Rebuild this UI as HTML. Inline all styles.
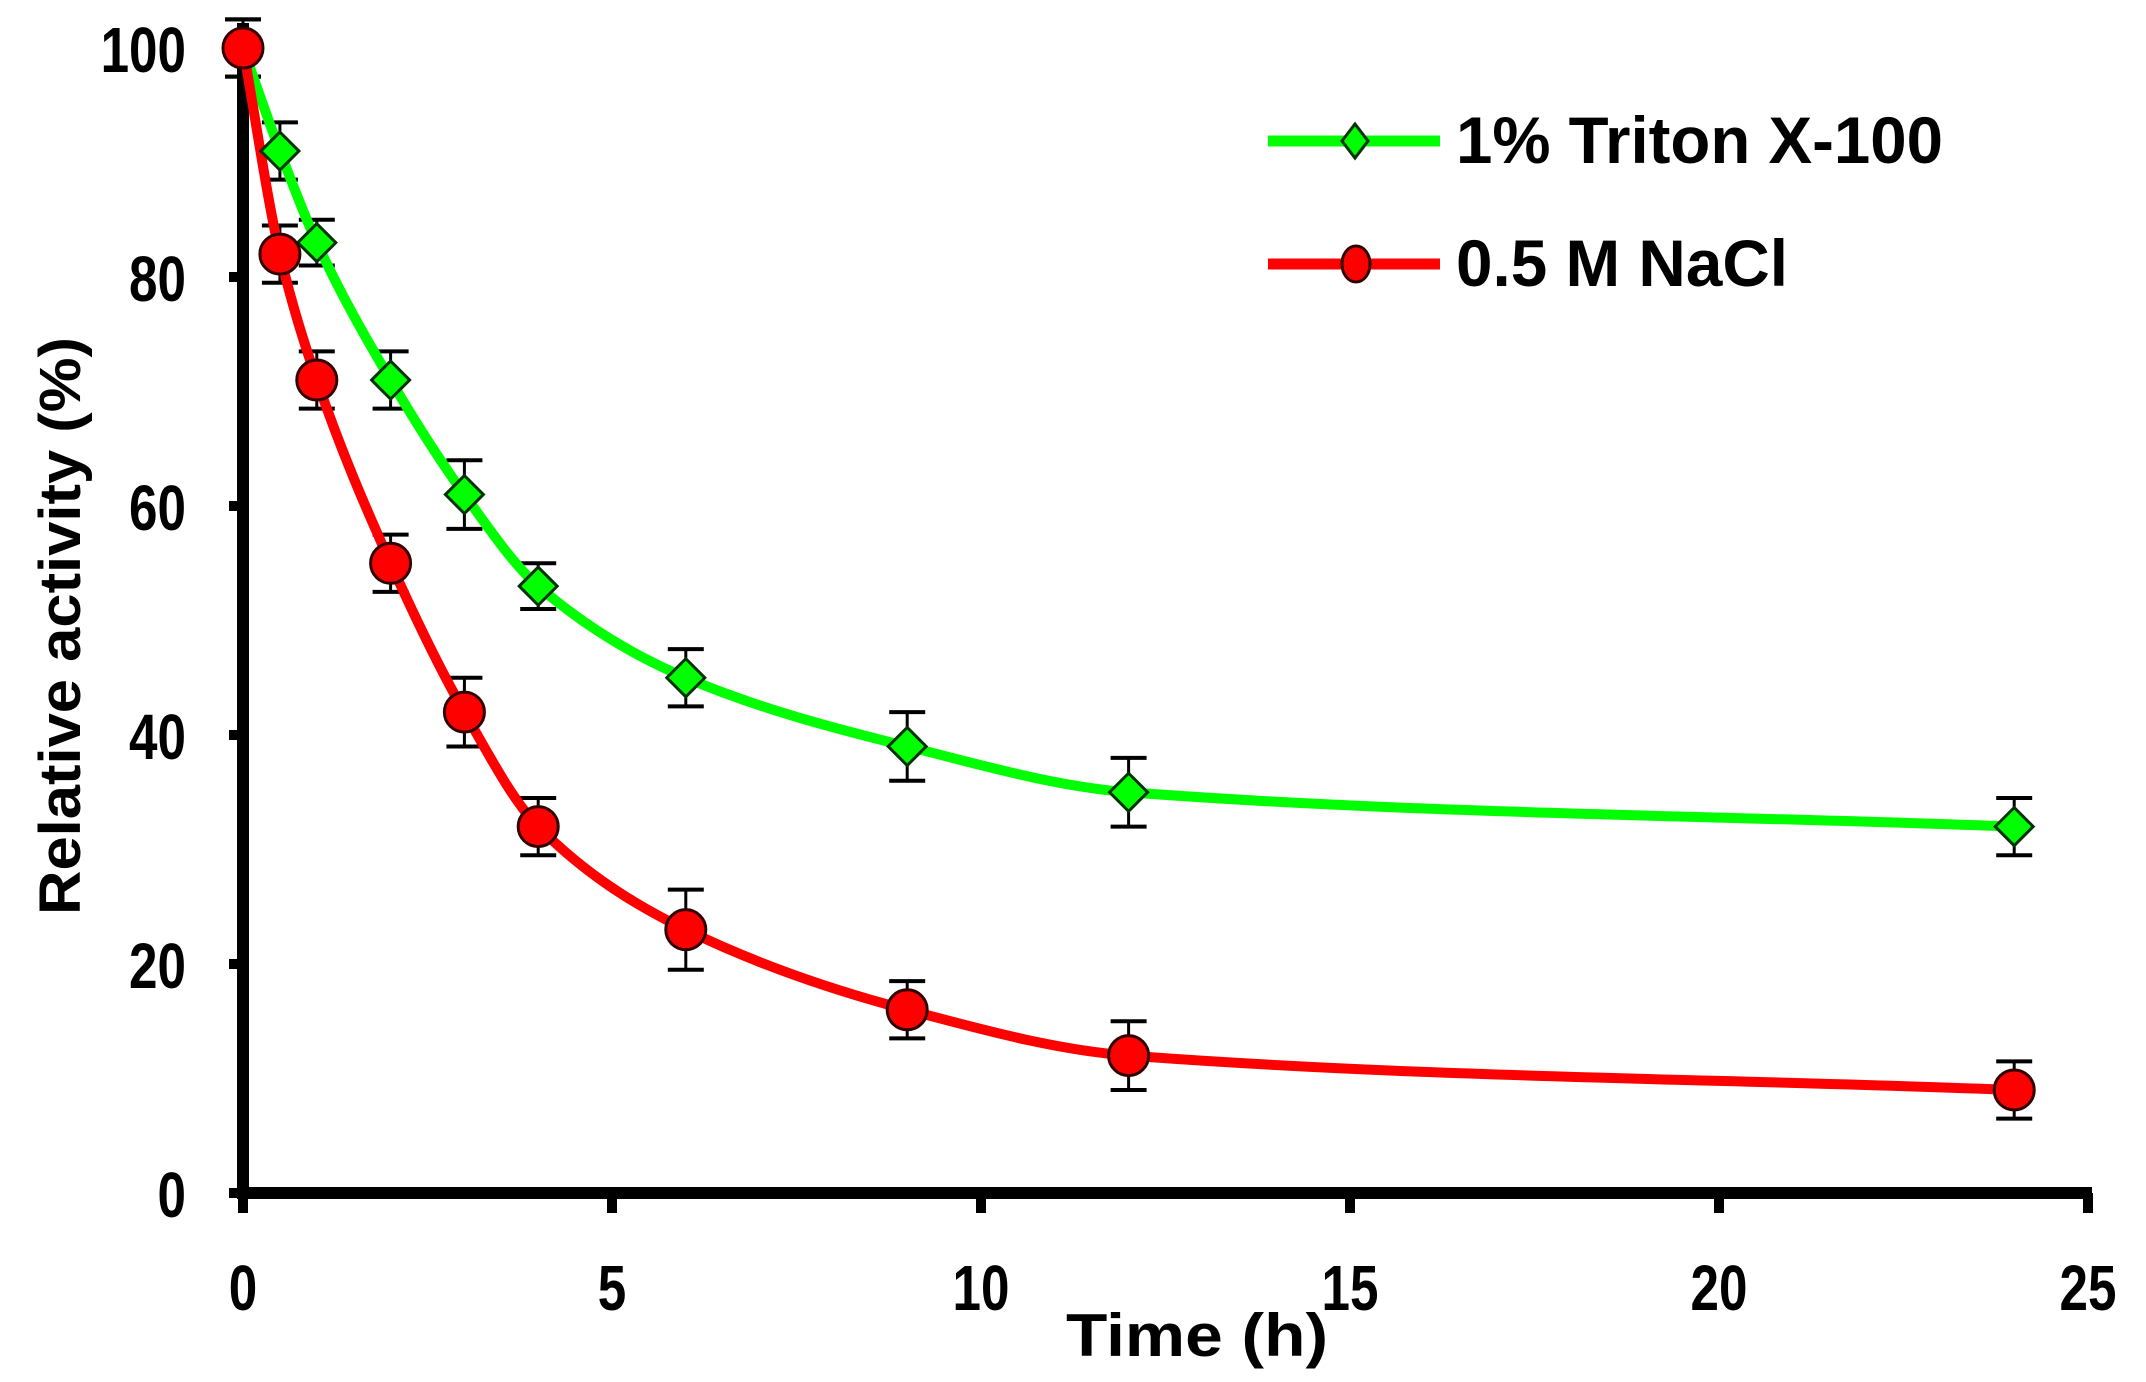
<!DOCTYPE html>
<html><head><meta charset="utf-8"><style>
html,body{margin:0;padding:0;background:#fff;}
svg{display:block;}
text{font-family:"Liberation Sans",sans-serif;fill:#000;}
</style></head><body>
<svg id="s" width="2146" height="1382" viewBox="0 0 2146 1382" xmlns="http://www.w3.org/2000/svg">
<g id="axes" stroke="#000" stroke-width="12" fill="none">
<line x1="243" y1="23" x2="243" y2="1199"/>
<line x1="237" y1="1193" x2="2092" y2="1193"/>
</g>
<g id="ticks" stroke="#000" stroke-width="10"></g>
<g id="labels" font-size="64" font-weight="bold"></g>
<text x="1197" y="1356" font-size="60" font-weight="bold" text-anchor="middle" textLength="262" lengthAdjust="spacingAndGlyphs">Time (h)</text>
<text transform="translate(80,626) rotate(-90)" font-size="58" font-weight="bold" text-anchor="middle" textLength="578" lengthAdjust="spacingAndGlyphs">Relative activity (%)</text>
<g id="plot"></g>
<line x1="1268" y1="141" x2="1440" y2="141" stroke="#00ff00" stroke-width="11"/>
<polygon points="1355,124 1368,141 1355,158 1342,141" fill="#00ff00" stroke="#003300" stroke-width="3"/>
<text x="1456" y="163" font-size="66" font-weight="bold" textLength="487" lengthAdjust="spacingAndGlyphs">1% Triton X-100</text>
<line x1="1268" y1="264" x2="1440" y2="264" stroke="#ff0000" stroke-width="11"/>
<ellipse cx="1356" cy="264" rx="14" ry="18" fill="#ff0000" stroke="#330000" stroke-width="3"/>
<text x="1456" y="286" font-size="66" font-weight="bold" textLength="332" lengthAdjust="spacingAndGlyphs">0.5 M NaCl</text>
</svg>
<script>
var NS="http://www.w3.org/2000/svg";
function X(t){return 243+73.8*t;}
function Y(v){return 1193-11.45*v;}
function el(n,a,p){var e=document.createElementNS(NS,n);for(var k in a)e.setAttribute(k,a[k]);p.appendChild(e);return e;}
var tk=document.getElementById("ticks"),lb=document.getElementById("labels");
for(var v=0;v<=100;v+=20){el("line",{x1:229,y1:Y(v),x2:243,y2:Y(v)},tk);
 var t=el("text",{x:186/0.8,y:Y(v)+24,"text-anchor":"end",transform:"scale(0.8,1)"},lb);t.textContent=v;}
for(var k=0;k<=25;k+=5){el("line",{x1:X(k),y1:1193,x2:X(k),y2:1213},tk);
 var t=el("text",{x:X(k)/0.8,y:1310,"text-anchor":"middle",transform:"scale(0.8,1)"},lb);t.textContent=k;}
var T=[0,0.5,1,2,3,4,6,9,12,24];
var G=[100,91,83,71,61,53,45,39,35,32];
var R=[100,82,71,55,42,32,23,16,12,9];
var GE=[2.5,2.5,2,2.5,3,2,2.5,3,3,2.5];
var RE=[2.5,2.5,2.5,2.5,3,2.5,3.5,2.5,3,2.5];
function path(V){var n=T.length,d=[],m=[];
 for(var i=0;i<n-1;i++)d.push((V[i+1]-V[i])/(T[i+1]-T[i]));
 m[0]=d[0];m[n-1]=d[n-2];
 for(var i=1;i<n-1;i++){if(d[i-1]*d[i]<=0)m[i]=0;else{var h0=T[i]-T[i-1],h1=T[i+1]-T[i];var w1=2*h1+h0,w2=h1+2*h0;m[i]=(w1+w2)/(w1/d[i-1]+w2/d[i]);}}
 var s="M"+X(T[0])+","+Y(V[0]);
 for(var i=0;i<n-1;i++){var h=T[i+1]-T[i];
  s+=" C"+X(T[i]+h/3)+","+Y(V[i]+m[i]*h/3)+" "+X(T[i+1]-h/3)+","+Y(V[i+1]-m[i+1]*h/3)+" "+X(T[i+1])+","+Y(V[i+1]);}
 return s;}
var pl=document.getElementById("plot");
function err(V,E){T.forEach(function(t,i){var x=X(t),a=Y(V[i]+E[i]),b=Y(V[i]-E[i]);
 el("line",{x1:x,y1:a,x2:x,y2:b,stroke:"#000","stroke-width":3},pl);
 el("line",{x1:x-18,y1:a,x2:x+18,y2:a,stroke:"#000","stroke-width":4},pl);
 el("line",{x1:x-18,y1:b,x2:x+18,y2:b,stroke:"#000","stroke-width":4},pl);});}
err(G,GE);err(R,RE);
el("path",{d:path(G),stroke:"#00ff00","stroke-width":10,fill:"none"},pl);
el("path",{d:path(R),stroke:"#ff0000","stroke-width":10,fill:"none"},pl);
T.forEach(function(t,i){var x=X(t),y=Y(G[i]);
 el("polygon",{points:[x,y-19,x+19,y,x,y+19,x-19,y].join(" "),fill:"#00ff00",stroke:"#003300","stroke-width":3},pl);});
T.forEach(function(t,i){el("circle",{cx:X(t),cy:Y(R[i]),r:20,fill:"#ff0000",stroke:"#330000","stroke-width":3},pl);});
</script>
</body></html>
